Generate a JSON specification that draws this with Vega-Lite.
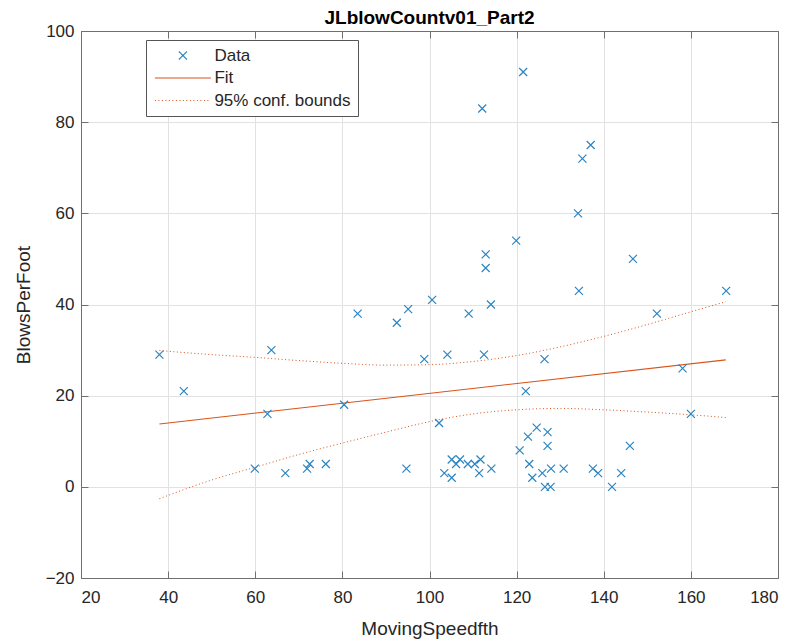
{
  "$schema": "https://vega.github.io/schema/vega-lite/v6.json",
  "width": 697,
  "height": 547,
  "autosize": {"type": "none"},
  "padding": {"left": 81, "top": 31, "right": 18, "bottom": 66},
  "background": "white",
  "title": {
    "text": "JLblowCountv01_Part2",
    "fontSize": 19,
    "fontWeight": "bold",
    "color": "#000000",
    "anchor": "middle",
    "offset": 3,
    "dy": 9
  },
  "config": {
    "font": "Liberation Sans",
    "view": {"stroke": null},
    "axis": {
      "domainColor": "#707070",
      "tickColor": "#707070",
      "tickSize": -7,
      "labelFontSize": 17,
      "labelColor": "#262626",
      "titleFontSize": 19,
      "titleFontWeight": "normal",
      "titleColor": "#262626",
      "gridColor": "#e2e2e2"
    }
  },
  "datasets": {
    "obs": [
      {"MovingSpeedfth": 38.0, "BlowsPerFoot": 29},
      {"MovingSpeedfth": 43.6, "BlowsPerFoot": 21},
      {"MovingSpeedfth": 63.7, "BlowsPerFoot": 30},
      {"MovingSpeedfth": 62.8, "BlowsPerFoot": 16},
      {"MovingSpeedfth": 80.4, "BlowsPerFoot": 18},
      {"MovingSpeedfth": 59.9, "BlowsPerFoot": 4},
      {"MovingSpeedfth": 66.9, "BlowsPerFoot": 3},
      {"MovingSpeedfth": 71.9, "BlowsPerFoot": 4},
      {"MovingSpeedfth": 72.5, "BlowsPerFoot": 5},
      {"MovingSpeedfth": 76.2, "BlowsPerFoot": 5},
      {"MovingSpeedfth": 94.7, "BlowsPerFoot": 4},
      {"MovingSpeedfth": 83.5, "BlowsPerFoot": 38},
      {"MovingSpeedfth": 92.5, "BlowsPerFoot": 36},
      {"MovingSpeedfth": 95.1, "BlowsPerFoot": 39},
      {"MovingSpeedfth": 100.6, "BlowsPerFoot": 41},
      {"MovingSpeedfth": 109.0, "BlowsPerFoot": 38},
      {"MovingSpeedfth": 114.1, "BlowsPerFoot": 40},
      {"MovingSpeedfth": 152.2, "BlowsPerFoot": 38},
      {"MovingSpeedfth": 98.8, "BlowsPerFoot": 28},
      {"MovingSpeedfth": 104.1, "BlowsPerFoot": 29},
      {"MovingSpeedfth": 112.5, "BlowsPerFoot": 29},
      {"MovingSpeedfth": 126.4, "BlowsPerFoot": 28},
      {"MovingSpeedfth": 158.1, "BlowsPerFoot": 26},
      {"MovingSpeedfth": 122.1, "BlowsPerFoot": 21},
      {"MovingSpeedfth": 160.0, "BlowsPerFoot": 16},
      {"MovingSpeedfth": 102.2, "BlowsPerFoot": 14},
      {"MovingSpeedfth": 124.6, "BlowsPerFoot": 13},
      {"MovingSpeedfth": 122.6, "BlowsPerFoot": 11},
      {"MovingSpeedfth": 127.1, "BlowsPerFoot": 12},
      {"MovingSpeedfth": 127.1, "BlowsPerFoot": 9},
      {"MovingSpeedfth": 146.0, "BlowsPerFoot": 9},
      {"MovingSpeedfth": 120.7, "BlowsPerFoot": 8},
      {"MovingSpeedfth": 105.1, "BlowsPerFoot": 6},
      {"MovingSpeedfth": 107.0, "BlowsPerFoot": 6},
      {"MovingSpeedfth": 106.1, "BlowsPerFoot": 5},
      {"MovingSpeedfth": 108.8, "BlowsPerFoot": 5},
      {"MovingSpeedfth": 110.4, "BlowsPerFoot": 5},
      {"MovingSpeedfth": 111.7, "BlowsPerFoot": 6},
      {"MovingSpeedfth": 122.9, "BlowsPerFoot": 5},
      {"MovingSpeedfth": 114.2, "BlowsPerFoot": 4},
      {"MovingSpeedfth": 127.9, "BlowsPerFoot": 4},
      {"MovingSpeedfth": 130.8, "BlowsPerFoot": 4},
      {"MovingSpeedfth": 137.5, "BlowsPerFoot": 4},
      {"MovingSpeedfth": 103.4, "BlowsPerFoot": 3},
      {"MovingSpeedfth": 111.4, "BlowsPerFoot": 3},
      {"MovingSpeedfth": 125.9, "BlowsPerFoot": 3},
      {"MovingSpeedfth": 138.7, "BlowsPerFoot": 3},
      {"MovingSpeedfth": 144.0, "BlowsPerFoot": 3},
      {"MovingSpeedfth": 105.1, "BlowsPerFoot": 2},
      {"MovingSpeedfth": 123.6, "BlowsPerFoot": 2},
      {"MovingSpeedfth": 126.5, "BlowsPerFoot": 0},
      {"MovingSpeedfth": 127.8, "BlowsPerFoot": 0},
      {"MovingSpeedfth": 141.9, "BlowsPerFoot": 0},
      {"MovingSpeedfth": 121.5, "BlowsPerFoot": 91},
      {"MovingSpeedfth": 112.1, "BlowsPerFoot": 83},
      {"MovingSpeedfth": 137.0, "BlowsPerFoot": 75},
      {"MovingSpeedfth": 135.1, "BlowsPerFoot": 72},
      {"MovingSpeedfth": 134.1, "BlowsPerFoot": 60},
      {"MovingSpeedfth": 119.9, "BlowsPerFoot": 54},
      {"MovingSpeedfth": 112.9, "BlowsPerFoot": 51},
      {"MovingSpeedfth": 112.9, "BlowsPerFoot": 48},
      {"MovingSpeedfth": 146.7, "BlowsPerFoot": 50},
      {"MovingSpeedfth": 134.3, "BlowsPerFoot": 43},
      {"MovingSpeedfth": 168.1, "BlowsPerFoot": 43}
    ],
    "fit": [
      {"MovingSpeedfth": 38, "BlowsPerFoot": 13.8},
      {"MovingSpeedfth": 168, "BlowsPerFoot": 27.85}
    ],
    "bounds": [
      {"MovingSpeedfth": 38, "lower": -2.6, "upper": 29.9},
      {"MovingSpeedfth": 50, "lower": 1.5, "upper": 29.0},
      {"MovingSpeedfth": 60, "lower": 4.3, "upper": 28.4},
      {"MovingSpeedfth": 70, "lower": 7.1, "upper": 27.7},
      {"MovingSpeedfth": 80, "lower": 9.6, "upper": 27.1},
      {"MovingSpeedfth": 90, "lower": 12.0, "upper": 26.7},
      {"MovingSpeedfth": 100, "lower": 14.3, "upper": 26.8},
      {"MovingSpeedfth": 110, "lower": 16.0, "upper": 27.5},
      {"MovingSpeedfth": 120, "lower": 16.9, "upper": 28.8},
      {"MovingSpeedfth": 130, "lower": 17.2, "upper": 30.7},
      {"MovingSpeedfth": 140, "lower": 16.9, "upper": 33.0},
      {"MovingSpeedfth": 150, "lower": 16.4, "upper": 35.6},
      {"MovingSpeedfth": 160, "lower": 15.8, "upper": 38.4},
      {"MovingSpeedfth": 168, "lower": 15.2, "upper": 40.6}
    ]
  },
  "resolve": {"axis": {"x": "independent", "y": "independent"}},
  "layer": [
    {
      "data": {"name": "bounds"},
      "mark": {"type": "line", "strokeWidth": 1, "strokeDash": [1, 2.5], "interpolate": "monotone"},
      "encoding": {
        "x": {
          "field": "MovingSpeedfth", "type": "quantitative",
          "scale": {"domain": [20, 180], "nice": false, "zero": false},
          "axis": {
            "orient": "bottom", "values": [20, 40, 60, 80, 100, 120, 140, 160, 180],
            "grid": true, "labelPadding": 18, "title": "MovingSpeedfth", "titlePadding": 14
          }
        },
        "y": {
          "field": "upper", "type": "quantitative",
          "scale": {"domain": [-20, 100], "nice": false, "zero": false},
          "axis": {
            "orient": "left", "values": [-20, 0, 20, 40, 60, 80, 100],
            "grid": true, "labelPadding": 14, "title": "BlowsPerFoot", "titlePadding": 12
          }
        },
        "color": {
          "datum": "95% conf. bounds", "type": "nominal",
          "scale": {"domain": ["Data", "Fit", "95% conf. bounds"], "range": ["#2b84c2", "#D95319", "#D95319"]},
          "legend": {
            "title": null,
            "orient": "none",
            "legendX": 65,
            "legendY": 9,
            "direction": "vertical",
            "strokeColor": "#555555",
            "fillColor": "#ffffff",
            "padding": 7,
            "rowPadding": 4.5,
            "symbolSize": 64,
            "symbolStrokeWidth": 1.2,
            "symbolOffset": 21.4,
            "labelFontSize": 17,
            "labelColor": "#262626",
            "labelOffset": 23,
            "encode": {
              "symbols": {
                "update": {
                  "shape": {"signal": "datum.value === 'Data' ? 'M-1,-1L1,1M-1,1L1,-1' : 'M-7,0H7'"},
                  "size": {"value": 64},
                  "strokeDash": {"signal": "datum.value === '95% conf. bounds' ? [1, 2.5] : [1, 0]"},
                  "stroke": {"signal": "datum.value === 'Data' ? '#2b84c2' : '#D95319'"},
                  "fill": {"value": "transparent"},
                  "strokeWidth": {"value": 1.2},
                  "opacity": {"value": 1}
                }
              }
            }
          }
        }
      }
    },
    {
      "data": {"name": "bounds"},
      "mark": {"type": "line", "strokeWidth": 1, "strokeDash": [1, 2.5], "interpolate": "monotone"},
      "encoding": {
        "x": {"field": "MovingSpeedfth", "type": "quantitative", "axis": null},
        "y": {"field": "lower", "type": "quantitative", "axis": null},
        "color": {"datum": "95% conf. bounds", "type": "nominal"}
      }
    },
    {
      "data": {"name": "fit"},
      "mark": {"type": "line", "strokeWidth": 1.1},
      "encoding": {
        "x": {
          "field": "MovingSpeedfth", "type": "quantitative",
          "axis": {"orient": "top", "values": [20, 40, 60, 80, 100, 120, 140, 160, 180], "labels": false, "grid": false, "title": null}
        },
        "y": {
          "field": "BlowsPerFoot", "type": "quantitative",
          "axis": {"orient": "right", "values": [-20, 0, 20, 40, 60, 80, 100], "labels": false, "grid": false, "title": null}
        },
        "color": {"datum": "Fit", "type": "nominal"}
      }
    },
    {
      "data": {"name": "obs"},
      "mark": {"type": "point", "shape": "M-1,-1L1,1M-1,1L1,-1", "filled": false, "size": 64, "strokeWidth": 1.2, "opacity": 1},
      "encoding": {
        "x": {"field": "MovingSpeedfth", "type": "quantitative", "axis": null},
        "y": {"field": "BlowsPerFoot", "type": "quantitative", "axis": null},
        "color": {"datum": "Data", "type": "nominal"}
      }
    },
    {
      "mark": {"type": "text", "align": "left", "baseline": "middle", "fontSize": 18, "color": "#000000"},
      "encoding": {
        "x": {"datum": 132.1, "type": "quantitative", "axis": null},
        "y": {"datum": -8.5, "type": "quantitative", "axis": null},
        "text": {"value": "R squared 0.017877"}
      }
    }
  ]
}
